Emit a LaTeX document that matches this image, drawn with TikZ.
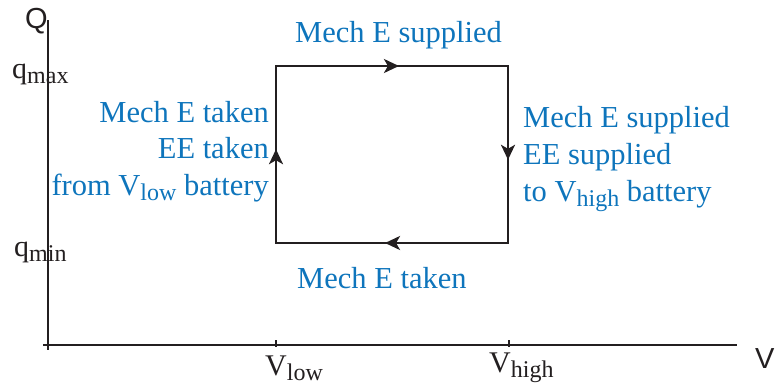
\documentclass[tikz,border=0pt]{standalone}
\usepackage{fontspec}
\setmainfont{Liberation Serif}
\newfontfamily\sansQ{Liberation Sans}
\usetikzlibrary{arrows.meta,decorations.markings}
\definecolor{lblblue}{RGB}{14,117,188}
\definecolor{axisgray}{RGB}{35,31,32}
\newcommand{\mysub}[1]{\raisebox{-5.5pt}{\fontsize{24}{24}\selectfont #1}}
\begin{document}
\begin{tikzpicture}[x=1pt,y=-1pt,
  lbl/.style={text=lblblue, inner sep=0pt, font=\fontsize{30.5}{37}\selectfont},
  axlbl/.style={text=axisgray, inner sep=0pt, font=\fontsize{30}{37}\selectfont},
  sanslbl/.style={text=axisgray, inner sep=0pt, font=\sansQ\fontsize{29}{35}\selectfont},
  axline/.style={draw=axisgray, line width=2.4pt},
  tickline/.style={draw=axisgray, line width=1.8pt},
  cycline/.style={draw=axisgray, line width=2.4pt, postaction={decorate},
    decoration={markings, mark=at position 0.53 with {\arrow{Stealth[length=15pt,width=14pt,inset=4pt]}}}}
]
\useasboundingbox (0,0) rectangle (777,389);
% axes
\coordinate (ytop) at (48,20);
\coordinate (ybot) at (48,350);
\coordinate (xleft) at (43,345);
\coordinate (xright) at (737,345);
\draw[axline] (ytop) -- (ybot);
\draw[axline] (xleft) -- (xright);
% ticks
\coordinate (t1a) at (276,340); \coordinate (t1b) at (276,347);
\coordinate (t2a) at (509,340); \coordinate (t2b) at (509,347);
\draw[tickline] (t1a) -- (t1b);
\draw[tickline] (t2a) -- (t2b);
% cycle corners
\coordinate (A) at (276,66);
\coordinate (B) at (508,66);
\coordinate (C) at (508,243);
\coordinate (D) at (276,243);
\draw[cycline] (A) -- (B);
\draw[cycline] (B) -- (C);
\draw[cycline] (C) -- (D);
\draw[cycline] (D) -- (A);
\draw[axisgray, line width=2.4pt, line join=miter] (A) -- (B) -- (C) -- (D) -- cycle;
% axis labels
\node[sanslbl, anchor=base west] (Q) at (25,28) {Q};
\node[sanslbl, anchor=base west] (V) at (755,368) {V};
\node[axlbl, anchor=base west] (qmax) at (12,78) {q\mysub{max}};
\node[axlbl, anchor=base west] (qmin) at (14,256) {q\mysub{min}};
\node[axlbl, anchor=base west] (vlow) at (265,375) {V\mysub{low}};
\node[axlbl, anchor=base west] (vhigh) at (489,372) {V\mysub{high}};
% process labels
\node[lbl, anchor=base west] (top) at (295,42) {Mech E supplied};
\node[lbl, anchor=base west] (bot) at (297,288) {Mech E taken};
\node[lbl, anchor=base west] (r1) at (523,127) {Mech E supplied};
\node[lbl, anchor=base west] (r2) at (523,164) {EE supplied};
\node[lbl, anchor=base west] (r3) at (523,201) {to V\mysub{high} battery};
\node[lbl, anchor=base east] (l1) at (269,122) {Mech E taken};
\node[lbl, anchor=base east] (l2) at (269,158) {EE taken};
\node[lbl, anchor=base east] (l3) at (269,195) {from V\mysub{low} battery};
\end{tikzpicture}
\end{document}
